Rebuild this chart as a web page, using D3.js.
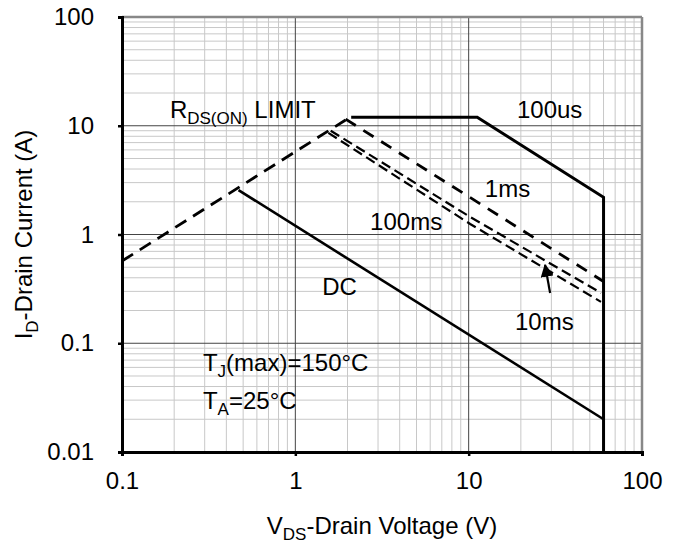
<!DOCTYPE html>
<html>
<head>
    <meta charset="UTF-8">
    <style>
        body { margin: 0; background: #fff; }
        svg { display: block; font-family: "Liberation Sans", Arial, sans-serif; }
        .major { stroke: #444; stroke-width: 1; }
        .minor { stroke: #c8c8c8; stroke-width: 1; }
        .lbl { font-size: 24px; fill: #000; }
    </style>
    <script src="https://d3js.org/d3.v7.min.js"></script>
</head>
<body>
<svg width="683" height="554"></svg>
<script>
// axis ticks
var xTicks = [0.1, 1, 10, 100];
var xTickLabels = ["0.1", "1", "10", "100"];
var yTicks = [0.01, 0.1, 1, 10, 100];
var yTickLabels = ["0.01", "0.1", "1", "10", "100"];

// curves (V in volts, I in amps)
var rdsV = [0.1, 1.95], rdsI = [0.57, 11.3];
var us100V = [2.1, 11.2, 60, 60], us100I = [12, 12, 2.2, 0.01];
var ms1V = [1.95, 60], ms1I = [11.5, 0.37];
var ms10V = [1.6, 10.2, 58], ms10I = [9.0, 1.45, 0.29];
var ms100V = [1.55, 10.2, 58], ms100I = [8.6, 1.25, 0.24];
var dcV = [0.47, 60], dcI = [2.56, 0.02];

var svg = d3.select("svg");
var x = d3.scaleLog().domain([0.1, 100]).range([122, 642]);
var y = d3.scaleLog().domain([0.01, 100]).range([452, 17]);

// grid
var g = svg.append("g");
function minors(dom) {
    var out = [];
    for (var e = Math.log10(dom[0]); e < Math.log10(dom[1]); e++)
        for (var k = 2; k <= 9; k++) out.push(k * Math.pow(10, e));
    return out;
}
g.selectAll(".vmin").data(minors(x.domain())).enter().append("line")
    .attr("class", "minor").attr("x1", x).attr("x2", x).attr("y1", y(100)).attr("y2", y(0.01));
g.selectAll(".hmin").data(minors(y.domain())).enter().append("line")
    .attr("class", "minor").attr("y1", y).attr("y2", y).attr("x1", x(0.1)).attr("x2", x(100));
g.selectAll(".vmaj").data(xTicks.slice(1, -1)).enter().append("line")
    .attr("class", "major").attr("x1", x).attr("x2", x).attr("y1", y(100)).attr("y2", y(0.01));
g.selectAll(".hmaj").data(yTicks.slice(1, -1)).enter().append("line")
    .attr("class", "major").attr("y1", y).attr("y2", y).attr("x1", x(0.1)).attr("x2", x(100));

// frame
svg.append("line").attr("x1", x(0.1)).attr("x2", x(100)).attr("y1", y(100)).attr("y2", y(100))
    .attr("stroke", "#888").attr("stroke-width", 2.5);
svg.append("line").attr("x1", x(100)).attr("x2", x(100)).attr("y1", y(100)).attr("y2", y(0.01))
    .attr("stroke", "#888").attr("stroke-width", 2.5);

// axes
var yAxis = svg.append("g").attr("transform", "translate(" + x(0.1) + ",0)")
    .call(d3.axisLeft(y).tickValues(yTicks).tickFormat(function(d, i) { return yTickLabels[i]; }).tickSize(4).tickPadding(24));
var xAxis = svg.append("g").attr("transform", "translate(0," + y(0.01) + ")")
    .call(d3.axisBottom(x).tickValues(xTicks).tickFormat(function(d, i) { return xTickLabels[i]; }).tickSize(4).tickPadding(16));
[xAxis, yAxis].forEach(function(a) {
    a.select(".domain").attr("stroke", "#000").attr("stroke-width", 3);
    a.selectAll(".tick line").attr("stroke", "#000").attr("stroke-width", 2.5);
    a.selectAll(".tick text").attr("class", "lbl").attr("font-family", null).attr("font-size", null);
});

// curves
var line = d3.line().x(function(d) { return x(d[0]); }).y(function(d) { return y(d[1]); });
function curve(V, I, dash, w) {
    svg.append("path").datum(d3.zip(V, I)).attr("d", line)
        .attr("fill", "none").attr("stroke", "#000").attr("stroke-width", w)
        .attr("stroke-dasharray", dash);
}
curve(rdsV, rdsI, "13,8", 2.8);
curve(ms1V, ms1I, "12,9", 2.8);
curve(ms10V, ms10I, "10,5", 2.2);
curve(ms100V, ms100I, "10,5", 2.2);
curve(us100V, us100I, null, 3);
curve(dcV, dcI, null, 2.6);

// annotations, anchored at (V, I) of their baseline start
function label(v, i, parts) {
    var t = svg.append("text").attr("x", x(v)).attr("y", y(i)).attr("class", "lbl");
    parts.forEach(function(p) {
        var s = t.append("tspan").text(p[0]);
        if (p[1]) s.attr("font-size", "17px").attr("dy", 6);
        else if (p[2]) s.attr("dy", -6);
    });
    return t;
}
label(0.189, 11.8, [["R"], ["DS(ON)", 1], [" LIMIT", 0, 1]]);
label(19, 11.8, [["100us"]]);
label(12.4, 2.2, [["1ms"]]);
label(2.7, 1.1, [["100ms"]]);
label(1.43, 0.278, [["DC"]]);
label(18.5, 0.132, [["10ms"]]);
label(0.293, 0.0556, [["T"], ["J", 1], ["(max)=150°C", 0, 1]]);
label(0.293, 0.0248, [["T"], ["A", 1], ["=25°C", 0, 1]]);

// arrow to 10ms curve
svg.append("defs").append("marker").attr("id", "ah").attr("viewBox", "0 0 10 10")
    .attr("refX", 9).attr("refY", 5).attr("markerWidth", 6).attr("markerHeight", 6)
    .attr("orient", "auto").append("path").attr("d", "M0,0L10,5L0,10z").attr("fill", "#000");
svg.append("line").attr("x1", x(29.5)).attr("y1", y(0.29)).attr("x2", x(27.6)).attr("y2", y(0.525))
    .attr("stroke", "#000").attr("stroke-width", 2.2).attr("marker-end", "url(#ah)");

// axis titles
var yt = svg.append("text").attr("class", "lbl").attr("text-anchor", "middle")
    .attr("transform", "translate(32," + ((y(100) + y(0.01)) / 2) + ") rotate(-90)");
yt.append("tspan").text("I");
yt.append("tspan").text("D").attr("font-size", "17px").attr("dy", 6);
yt.append("tspan").text("-Drain Current (A)").attr("dy", -6);

var xt = svg.append("text").attr("class", "lbl").attr("text-anchor", "middle")
    .attr("x", (x(0.1) + x(100)) / 2).attr("y", 534);
xt.append("tspan").text("V");
xt.append("tspan").text("DS").attr("font-size", "17px").attr("dy", 6);
xt.append("tspan").text("-Drain Voltage (V)").attr("dy", -6);
</script>
</body>
</html>
